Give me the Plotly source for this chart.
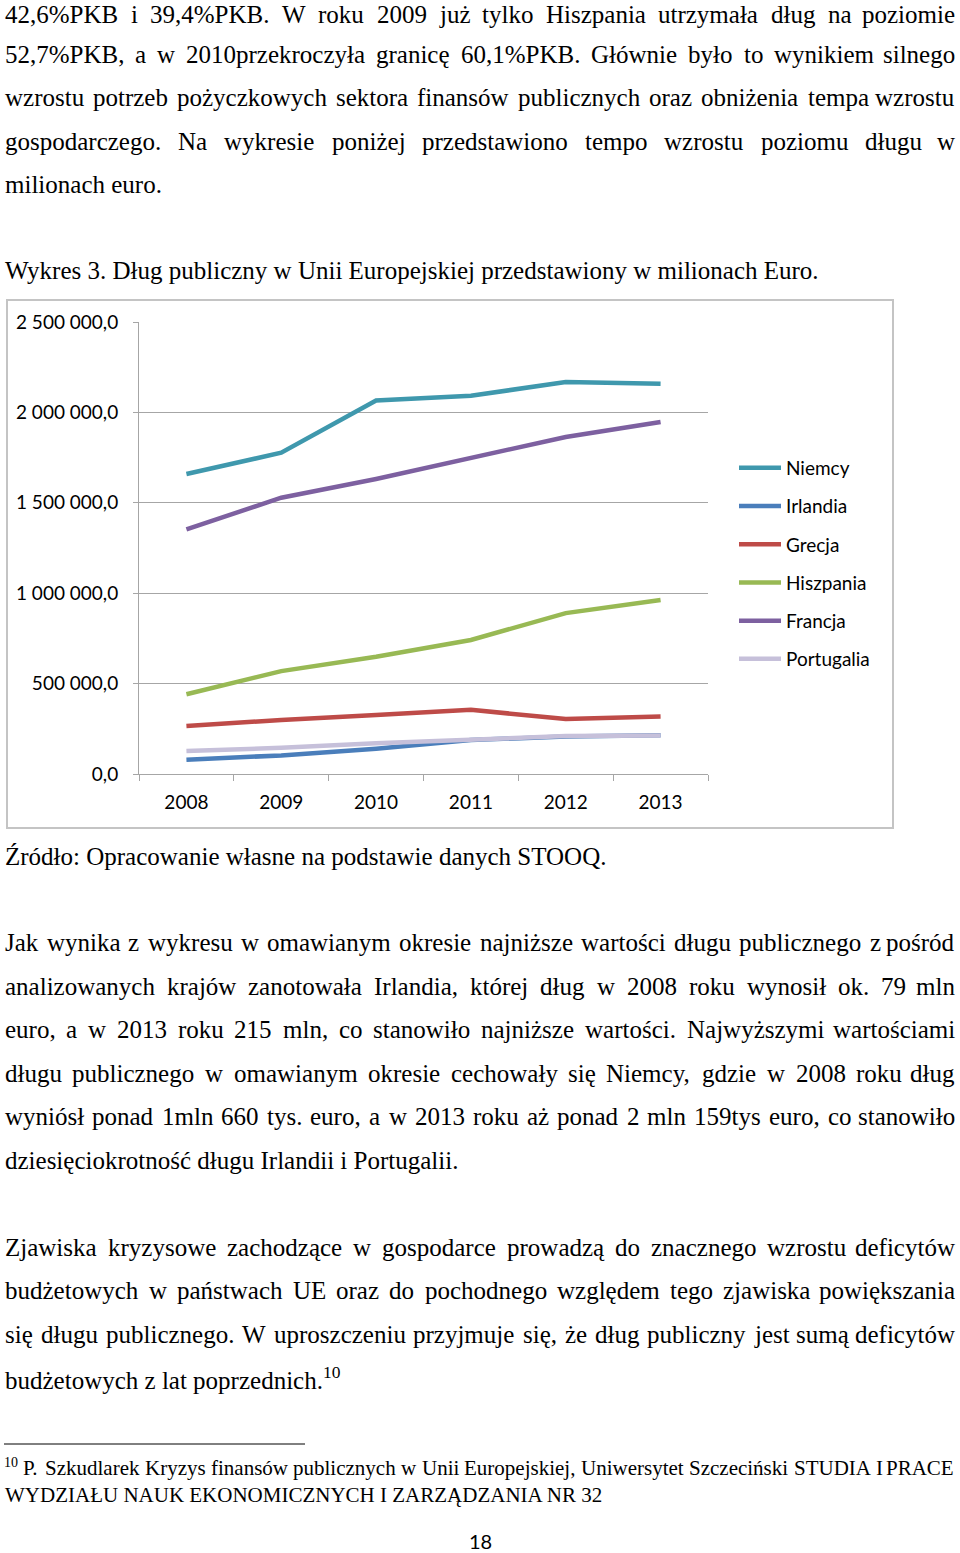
import plotly.graph_objects as go

# ---------------- chart data ----------------
years = ["2008", "2009", "2010", "2011", "2012", "2013"]
niemcy = [1659000, 1777000, 2066000, 2092000, 2168000, 2159000]
irlandia = [79000, 103000, 140000, 188000, 207000, 215000]
grecja = [265000, 299000, 326000, 355000, 304000, 318000]
hiszpania = [441000, 569000, 648000, 741000, 890000, 962000]
francja = [1353000, 1528000, 1632000, 1748000, 1864000, 1947000]
portugalia = [127000, 145000, 170000, 193000, 210000, 213000]

series_names = ["Niemcy", "Irlandia", "Grecja", "Hiszpania", "Francja", "Portugalia"]
series_values = [niemcy, irlandia, grecja, hiszpania, francja, portugalia]
series_colors = ["#3f98ad", "#4a7ebb", "#be4b48", "#98b954", "#7d60a0", "#c6c0da"]

y_ticks = [0, 500000, 1000000, 1500000, 2000000, 2500000]

# ---------------- page text ----------------
para1 = [
    "42,6%PKB i 39,4%PKB. W roku 2009 już tylko Hiszpania utrzymała dług na poziomie",
    "52,7%PKB, a w 2010przekroczyła granicę 60,1%PKB. Głównie było to wynikiem silnego",
    "wzrostu potrzeb pożyczkowych sektora finansów publicznych oraz obniżenia tempa wzrostu",
    "gospodarczego. Na wykresie poniżej przedstawiono tempo wzrostu poziomu długu w",
    "milionach euro.",
]
caption = "Wykres 3. Dług publiczny w Unii Europejskiej przedstawiony w milionach Euro."
source = "Źródło: Opracowanie własne na podstawie danych STOOQ."
para2 = [
    "Jak wynika z wykresu w omawianym okresie najniższe wartości długu publicznego z pośród",
    "analizowanych krajów zanotowała Irlandia, której dług w 2008 roku wynosił  ok. 79 mln",
    "euro, a w 2013 roku 215 mln, co stanowiło najniższe wartości. Najwyższymi wartościami",
    "długu publicznego w omawianym okresie cechowały się Niemcy, gdzie w 2008 roku dług",
    "wyniósł ponad 1mln 660 tys. euro, a w 2013 roku aż ponad 2 mln 159tys euro, co stanowiło",
    "dziesięciokrotność długu Irlandii i Portugalii.",
]
para3 = [
    "Zjawiska kryzysowe zachodzące w gospodarce prowadzą do znacznego wzrostu deficytów",
    "budżetowych w państwach UE oraz do pochodnego względem tego zjawiska powiększania",
    "się długu publicznego. W uproszczeniu przyjmuje się, że dług publiczny jest sumą deficytów",
    "budżetowych z lat poprzednich.<sup>10</sup>",
]
footnote_mark = "10"
footnote = [
    "P. Szkudlarek Kryzys finansów publicznych w Unii Europejskiej, Uniwersytet Szczeciński STUDIA I PRACE",
    "WYDZIAŁU NAUK EKONOMICZNYCH I ZARZĄDZANIA NR 32",
]
page_number = "18"

W_PX, H_PX = 960, 1553
SERIF = "Liberation Serif, Times New Roman, serif"
SANS = "Lato, Open Sans, sans-serif"

# Times metrics (per 1000 em) for justification
AFM = {' ': 250, '!': 333, '%': 833, '(': 333, ')': 333, ',': 250, '-': 333, '.': 250, ':': 278, ';': 278,
       'A': 722, 'B': 667, 'C': 667, 'D': 722, 'E': 611, 'F': 556, 'G': 722, 'H': 722, 'I': 333, 'J': 389,
       'K': 722, 'L': 611, 'M': 889, 'N': 722, 'O': 722, 'P': 556, 'Q': 722, 'R': 667, 'S': 556, 'T': 611,
       'U': 722, 'V': 722, 'W': 944, 'X': 722, 'Y': 722, 'Z': 611,
       'a': 444, 'b': 500, 'c': 444, 'd': 500, 'e': 444, 'f': 333, 'g': 500, 'h': 500, 'i': 278, 'j': 278,
       'k': 500, 'l': 278, 'm': 778, 'n': 500, 'o': 500, 'p': 500, 'q': 500, 'r': 333, 's': 389, 't': 278,
       'u': 500, 'v': 500, 'w': 722, 'x': 500, 'y': 500, 'z': 444}
BASE = {'ą': 'a', 'ć': 'c', 'ę': 'e', 'ł': 'l', 'ń': 'n', 'ó': 'o', 'ś': 's', 'ź': 'z', 'ż': 'z',
        'Ą': 'A', 'Ć': 'C', 'Ę': 'E', 'Ł': 'L', 'Ń': 'N', 'Ó': 'O', 'Ś': 'S', 'Ź': 'Z', 'Ż': 'Z'}


def text_width(s, size):
    tot = 0
    for ch in s:
        ch = BASE.get(ch, ch)
        tot += AFM.get(ch, 500)
    return tot / 1000.0 * size


annotations = []


def px_x(x):
    return x / W_PX


def px_y(y):
    return 1 - y / H_PX


def ann(text, x, y, xanchor, size, font=SERIF):
    annotations.append(dict(text=text, x=px_x(x), y=px_y(y), xref="paper", yref="paper",
                            xanchor=xanchor, yanchor="middle", showarrow=False, borderpad=0,
                            font=dict(family=font, size=size, color="black")))


def add_line(text, baseline, size, justify=False, left=4, right=956, font=SERIF):
    yc = baseline - 0.34 * size
    if not justify:
        ann(text, left, yc, "left", size, font)
        return
    words = text.split()
    widths = [text_width(w, size) for w in words]
    gap = (right - left - sum(widths)) / max(len(words) - 1, 1)
    x = left
    for i, (w, wd) in enumerate(zip(words, widths)):
        if i == len(words) - 1:
            ann(w, right, yc, "right", size, font)
        else:
            ann(w, x, yc, "left", size, font)
        x += wd + gap


def add_paragraph(lines, baselines, size):
    for i, (ln, b) in enumerate(zip(lines, baselines)):
        add_line(ln, b, size, justify=(i < len(lines) - 1))


BODY = 25
add_paragraph(para1, [22.5, 62.5, 106, 150, 193], BODY)
add_line(caption, 279, BODY)
add_line(source, 865, BODY)
add_paragraph(para2, [951, 995, 1038, 1082, 1125, 1169], BODY)
add_paragraph(para3, [1256, 1299, 1343, 1386], BODY)
# footnote
ann(footnote_mark, 3, 1462, "left", 14)
add_line(footnote[0], 1475, 21, justify=True, left=22, right=955)
add_line(footnote[1], 1502, 21)
ann(page_number, 480, 1541, "center", 20, SANS)

# ---------------- figure ----------------
fig = go.Figure()
for name, vals, col in zip(series_names, series_values, series_colors):
    fig.add_trace(go.Scatter(x=years, y=vals, name=name, mode="lines", legendgroup=name,
                             line=dict(color=col, width=4.5)))

grid = "#a6a6a6"
fig.update_layout(
    width=W_PX, height=H_PX, autosize=False,
    margin=dict(l=0, r=0, t=0, b=0, pad=0, autoexpand=False),
    paper_bgcolor="white", plot_bgcolor="white",
    separators=", ",
    font=dict(family=SANS, size=19, color="black"),
    xaxis=dict(domain=[139 / W_PX, 708 / W_PX], type="category", range=[-0.5, len(years) - 0.5],
               tickson="boundaries",
               ticks="outside", ticklen=6, tickcolor=grid, showline=True, linecolor=grid,
               linewidth=1, showgrid=False, tickfont=dict(family=SANS, size=19, color="black"),
               ticklabelstandoff=11, fixedrange=True, automargin=False),
    yaxis=dict(domain=[px_y(774), px_y(322)], range=[0, 2500000], tickvals=y_ticks,
               tickformat=",.1f", ticks="outside", ticklen=5, tickcolor=grid, showline=True,
               linecolor=grid, linewidth=1, showgrid=True, gridcolor=grid, gridwidth=1,
               zeroline=False, tickfont=dict(family=SANS, size=19, color="black"),
               ticklabelstandoff=11, fixedrange=True, automargin=False),
    showlegend=True,
    legend=dict(x=px_x(734), y=px_y(449), xanchor="left", yanchor="top",
                traceorder="grouped", tracegroupgap=10.5, bgcolor="rgba(0,0,0,0)",
                font=dict(family=SANS, size=19, color="black"), itemwidth=42),
    annotations=annotations,
    shapes=[
        dict(type="rect", xref="paper", yref="paper", x0=px_x(7), x1=px_x(893),
             y0=px_y(828), y1=px_y(300), line=dict(color="#c4c4c4", width=2), layer="below"),
        dict(type="line", xref="paper", yref="paper", x0=px_x(4), x1=px_x(305),
             y0=px_y(1444), y1=px_y(1444), line=dict(color="black", width=1)),
    ],
)

fig.write_html("out.html", config={"displayModeBar": False},
               post_script="document.body.style.margin='0';document.body.style.overflow='hidden';")
